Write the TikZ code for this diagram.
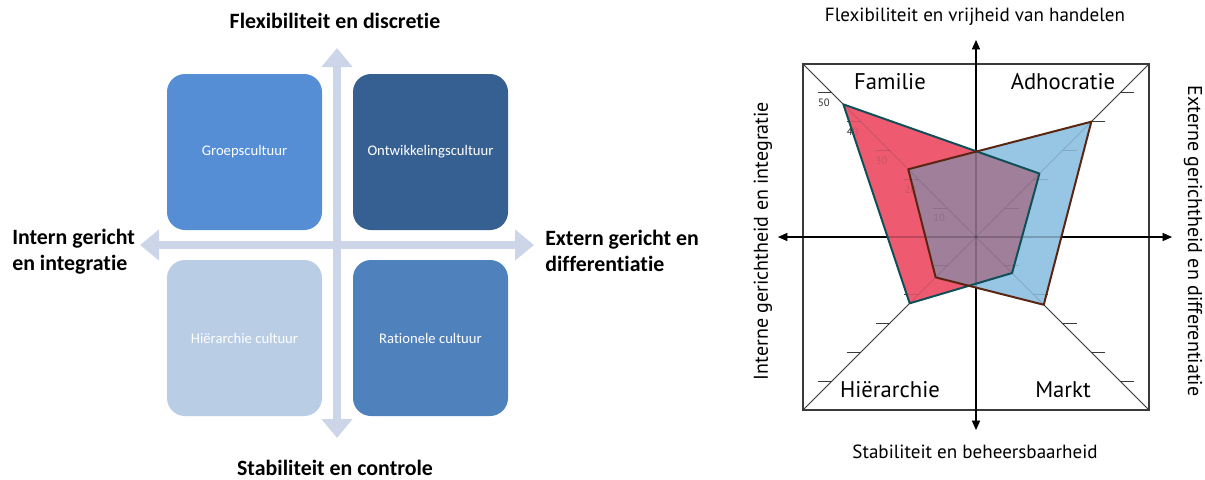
\documentclass[tikz,border=0pt]{standalone}
\usepackage{fontspec}
\setmainfont{Carlito}[Ligatures=NoCommon]
\newfontfamily\chartfont{PT Sans}
\usetikzlibrary{arrows.meta}

% quadrant colours
\definecolor{groep}{HTML}{558ED5}
\definecolor{ontw}{HTML}{376092}
\definecolor{hier}{HTML}{B9CDE5}
\definecolor{ratio}{HTML}{4F81BD}
\definecolor{crossbar}{HTML}{CDD6E8}
% radar chart colours
\definecolor{famred}{HTML}{EE5A70}
\definecolor{adhblue}{HTML}{97C5E4}
\definecolor{overlapmix}{HTML}{A07F9B}
\definecolor{tealline}{HTML}{0E4F58}
\definecolor{brownline}{HTML}{5A2612}
\definecolor{gridgray}{HTML}{3A3A3A}

\def\radunit{2.883}

% square frame, diagonals, ticks and axes of the radar chart
\newcommand\radargrid{%
  \draw[sqline] (sqTL) rectangle (sqBR);
  \draw[diagline] (sqTL) -- (C) -- (sqBR);
  \draw[diagline] (sqTR) -- (C) -- (sqBL);
  \foreach \v in {10,20,30,40,50}{%
    \draw[tickline] ({976-\v*\radunit},{237-\v*\radunit}) -- ++(-14,0);
    \draw[tickline] ({976+\v*\radunit},{237-\v*\radunit}) -- ++(14,0);
    \draw[tickline] ({976-\v*\radunit},{237+\v*\radunit}) -- ++(-14,0);
    \draw[tickline] ({976+\v*\radunit},{237+\v*\radunit}) -- ++(14,0);
    \node[ticklabel] at ({976-\v*\radunit-8},{237-\v*\radunit+10}) {\v};
  }
  \draw[axisarrow] (axL) -- (axR);
  \draw[axisarrow] (axB) -- (axT);
}

\begin{document}
\begin{tikzpicture}[x=0.75pt,y=-0.75pt,
  quad/.style={rounded corners=13.5pt, minimum width=116.25pt, minimum height=117pt,
    inner sep=0pt, text=white, font=\fontsize{11}{13}\selectfont},
  crossarrow/.style={draw=crossbar, line width=5.3pt,
    {Triangle[length=14.25pt,width=22.5pt]}-{Triangle[length=14.25pt,width=22.5pt]}},
  axislabel/.style={font=\fontsize{16.4}{19.5}\selectfont\bfseries, inner sep=0pt},
  sqline/.style={draw=gridgray, line width=0.9pt},
  diagline/.style={draw=gridgray, line width=0.6pt},
  tickline/.style={draw=gridgray, line width=0.6pt},
  ticklabel/.style={font=\chartfont\fontsize{8}{9}\selectfont, text=gridgray, inner sep=0pt},
  axisarrow/.style={draw=black, line width=0.8pt,
    {Triangle[length=7pt,width=6pt]}-{Triangle[length=7pt,width=6pt]}},
  charttitle/.style={font=\chartfont\fontsize{14.3}{16}\selectfont, inner sep=0pt},
  sidetitle/.style={font=\chartfont\fontsize{15}{17}\selectfont, inner sep=0pt},
  quadlabel/.style={font=\chartfont\fontsize{17}{19}\selectfont, inner sep=0pt},
  redpoly/.style={draw=tealline, line width=1.5pt, line join=round},
  bluepoly/.style={draw=brownline, line width=1.5pt, line join=round}]

\useasboundingbox (0,0) rectangle (1205,479);

% ---------- competing values framework ----------
\coordinate (crossT) at (337,48);
\coordinate (crossB) at (337,438);
\coordinate (crossL) at (140,245);
\coordinate (crossR) at (534,245);
\draw[crossarrow] (crossB) -- (crossT);
\draw[crossarrow] (crossL) -- (crossR);

\node[quad, fill=groep] (groep) at (244.5,152) {Groepscultuur};
\node[quad, fill=ontw]  (ontw)  at (430.5,152) {Ontwikkelingscultuur};
\node[quad, fill=hier]  (hier)  at (244.5,338) {Hiërarchie cultuur};
\node[quad, fill=ratio] (ratio) at (430.5,338) {Rationele cultuur};

\node[axislabel] (flex) at (335,21) {Flexibiliteit en discretie};
\node[axislabel] (stab) at (335,468) {Stabiliteit en controle};
\node[axislabel, anchor=west, align=left] (intern) at (12,252) {Intern gericht\\en integratie};
\node[axislabel, anchor=west, align=left] (extern) at (545,251) {Extern gericht en\\differentiatie};

% ---------- radar chart ----------
\coordinate (C) at (976,237);
\coordinate (sqTL) at (803,64);
\coordinate (sqTR) at (1149,64);
\coordinate (sqBL) at (803,410);
\coordinate (sqBR) at (1149,410);
\coordinate (axL) at (778,237);
\coordinate (axR) at (1172,237);
\coordinate (axT) at (976,40);
\coordinate (axB) at (976,430);

% profile 1 (Familie, Adhocratie, Markt, Hierarchie)
\coordinate (rF) at ({976-46*\radunit},{237-46*\radunit});
\coordinate (rA) at ({976+22*\radunit},{237-22*\radunit});
\coordinate (rM) at ({976+12.5*\radunit},{237+12.5*\radunit});
\coordinate (rH) at ({976-23*\radunit},{237+23*\radunit});
% profile 2
\coordinate (bF) at ({976-23.5*\radunit},{237-23.5*\radunit});
\coordinate (bA) at ({976+40*\radunit},{237-40*\radunit});
\coordinate (bM) at ({976+23.5*\radunit},{237+23.5*\radunit});
\coordinate (bH) at ({976-14*\radunit},{237+14*\radunit});

\radargrid

\fill[famred] (rF) -- (rA) -- (rM) -- (rH) -- cycle;
\fill[adhblue] (bF) -- (bA) -- (bM) -- (bH) -- cycle;
\begin{scope}
  \clip (rF) -- (rA) -- (rM) -- (rH) -- cycle;
  \fill[overlapmix] (bF) -- (bA) -- (bM) -- (bH) -- cycle;
\end{scope}

% grid shows faintly through the filled profiles
\begin{scope}[opacity=0.2]
  \radargrid
\end{scope}

\draw[redpoly] (rF) -- (rA) -- (rM) -- (rH) -- cycle;
\draw[bluepoly] (bF) -- (bA) -- (bM) -- (bH) -- cycle;

\node[quadlabel] (familie) at (890,82) {Familie};
\node[quadlabel] (adhoc) at (1063,82) {Adhocratie};
\node[quadlabel] (hierq) at (890,390) {Hiërarchie};
\node[quadlabel] (markt) at (1063,390) {Markt};

\node[charttitle] (ttop) at (975,17) {Flexibiliteit en vrijheid van handelen};
\node[charttitle] (tbot) at (975,452) {Stabiliteit en beheersbaarheid};
\node[sidetitle, rotate=90] (tleft) at (763,241) {Interne gerichtheid en integratie};
\node[sidetitle, rotate=-90] (tright) at (1193,241) {Externe gerichtheid en differentiatie};

\end{tikzpicture}
\end{document}
